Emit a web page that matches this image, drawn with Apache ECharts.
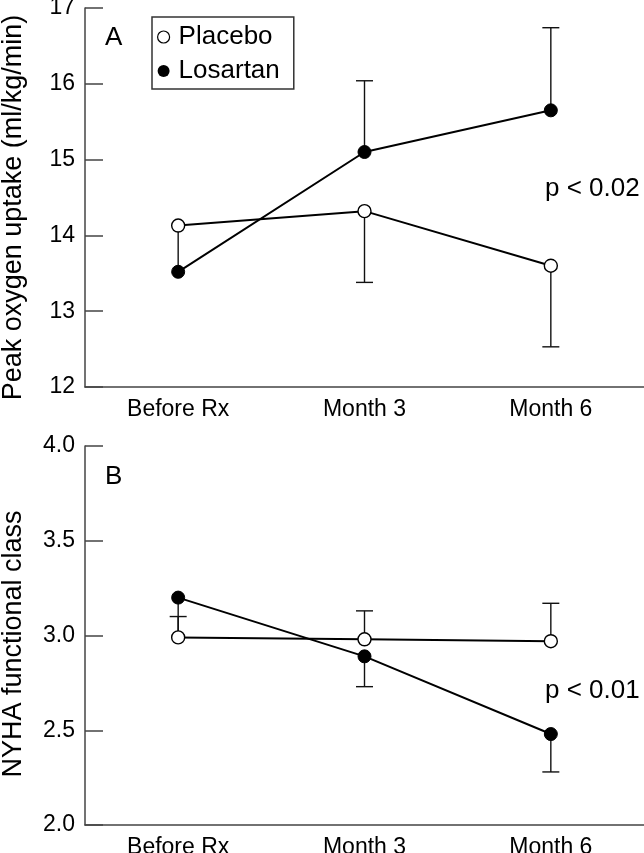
<!DOCTYPE html>
<html>
<head>
<meta charset="utf-8">
<script src="https://cdn.jsdelivr.net/npm/echarts@6/dist/echarts.min.js"></script>
<style>
html,body{margin:0;padding:0;background:#fff;}
#chart{width:644px;height:853px;}
</style>
</head>
<body>
<div id="chart"></div>
<script>
// ---- data ----
const categories = ['Before Rx', 'Month 3', 'Month 6'];
const seriesNames = ['Placebo', 'Losartan'];

// Panel A: peak oxygen uptake (ml/kg/min)
const peakTicks = [12, 13, 14, 15, 16, 17];
const peakPlacebo = [14.13, 14.32, 13.60];
const peakLosartan = [13.52, 15.10, 15.65];
const peakPlaceboBarEnd = [13.55, 13.38, 12.53];
const peakPlaceboBarCap = [0, 1, 1];
const peakLosartanBarEnd = [null, 16.04, 16.74];
const peakLosartanBarCap = [0, 1, 1];
const peakPValue = 'p < 0.02';

// Panel B: NYHA functional class
const nyhaTicks = [2.0, 2.5, 3.0, 3.5, 4.0];
const nyhaPlacebo = [2.99, 2.98, 2.97];
const nyhaLosartan = [3.20, 2.89, 2.48];
const nyhaPlaceboBarEnd = [3.10, 3.13, 3.17];
const nyhaPlaceboBarCap = [1, 1, 1];
const nyhaLosartanBarEnd = [3.0, 2.73, 2.28];
const nyhaLosartanBarCap = [0, 1, 1];
const nyhaPValue = 'p < 0.01';

const panelLabels = ['A', 'B'];
const yNames = ['Peak oxygen uptake (ml/kg/min)', 'NYHA functional class'];

// ---- chart ----
const FONT = '"Liberation Sans", Arial, Helvetica, sans-serif';
const AXIS_COLOR = '#444';

function barRows(means, ends, caps) {
  const rows = [];
  categories.forEach((c, i) => {
    if (ends[i] !== null && ends[i] !== undefined) rows.push([i, means[i], ends[i], caps[i]]);
  });
  return rows;
}

function renderErrorBar(params, api) {
  const idx = api.value(0);
  const p0 = api.coord([idx, api.value(1)]);
  const p1 = api.coord([idx, api.value(2)]);
  const style = { stroke: '#111', lineWidth: 1.4 };
  const children = [{ type: 'line', shape: { x1: p0[0], y1: p0[1], x2: p1[0], y2: p1[1] }, style: style }];
  if (api.value(3)) {
    children.push({ type: 'line', shape: { x1: p1[0] - 8.5, y1: p1[1], x2: p1[0] + 8.5, y2: p1[1] }, style: style });
  }
  return { type: 'group', children: children };
}

function xAxisCfg(gi) {
  return {
    type: 'category', gridIndex: gi, data: categories, boundaryGap: true,
    axisLine: { lineStyle: { color: AXIS_COLOR, width: 1.5 } },
    axisTick: { inside: true, length: 18, alignWithLabel: true, lineStyle: { color: AXIS_COLOR, width: 1.5 } },
    axisLabel: { fontSize: 23, color: '#000', margin: 11, fontFamily: FONT }
  };
}
function yAxisCfg(gi, ticks, name, pad, fmt) {
  return {
    type: 'value', gridIndex: gi, min: ticks[0], max: ticks[ticks.length - 1],
    interval: ticks[1] - ticks[0],
    name: name, nameLocation: 'middle', nameGap: 58, nameRotate: 90,
    nameTextStyle: { fontSize: 27, color: '#000', fontFamily: FONT, padding: pad },
    splitLine: { show: false },
    axisLine: { show: true, lineStyle: { color: AXIS_COLOR, width: 1.5 } },
    axisTick: { show: true, inside: true, length: 18, lineStyle: { color: AXIS_COLOR, width: 1.5 } },
    axisLabel: { fontSize: 23, color: '#000', margin: 10, fontFamily: FONT, formatter: fmt }
  };
}

function lineSeries(name, gi, data, filled) {
  return {
    type: 'line', name: name, xAxisIndex: gi, yAxisIndex: gi, data: data,
    symbol: 'circle', symbolSize: 13, z: 3, animation: false,
    lineStyle: { color: '#000', width: 2 },
    itemStyle: filled ? { color: '#000', borderColor: '#000', borderWidth: 1 }
                      : { color: '#fff', borderColor: '#000', borderWidth: 1.4 }
  };
}
function barSeries(gi, means, ends, caps) {
  return {
    type: 'custom', xAxisIndex: gi, yAxisIndex: gi, z: 2, silent: true, animation: false,
    renderItem: renderErrorBar, data: barRows(means, ends, caps),
    encode: { x: 0, y: [1, 2] }
  };
}

const chart = echarts.init(document.getElementById('chart'), null, { renderer: 'canvas' });
chart.setOption({
  animation: false,
  backgroundColor: '#fff',
  textStyle: { fontFamily: FONT },
  grid: [
    { left: 85, top: 8, right: 0, height: 379, containLabel: false, outerBoundsMode: 'none' },
    { left: 85, top: 446, right: 0, height: 379, containLabel: false, outerBoundsMode: 'none' }
  ],
  xAxis: [xAxisCfg(0), xAxisCfg(1)],
  yAxis: [
    yAxisCfg(0, peakTicks, yNames[0], [0, 20, 0, 0], v => String(v)),
    yAxisCfg(1, nyhaTicks, yNames[1], [0, 17, 0, 0], v => v.toFixed(1))
  ],
  legend: {
    orient: 'vertical', left: 152, top: 17, padding: [7, 14, 5, 5], itemGap: 8,
    itemWidth: 20, itemHeight: 12, borderColor: '#333', borderWidth: 1.5,
    textStyle: { fontSize: 26, color: '#000', fontFamily: FONT },
    selectedMode: false,
    data: [
      { name: seriesNames[0], icon: 'circle', itemStyle: { color: '#fff', borderColor: '#000', borderWidth: 1.2 } },
      { name: seriesNames[1], icon: 'circle', itemStyle: { color: '#000', borderColor: '#000', borderWidth: 0 } }
    ]
  },
  graphic: [
    { type: 'text', x: 105, y: 38, style: { text: panelLabels[0], fontSize: 26, fontFamily: FONT, fill: '#000', verticalAlign: 'middle' } },
    { type: 'text', x: 105, y: 477, style: { text: panelLabels[1], fontSize: 26, fontFamily: FONT, fill: '#000', verticalAlign: 'middle' } },
    { type: 'text', x: 545, y: 189, style: { text: peakPValue, fontSize: 26, fontFamily: FONT, fill: '#000', verticalAlign: 'middle' } },
    { type: 'text', x: 545, y: 691, style: { text: nyhaPValue, fontSize: 26, fontFamily: FONT, fill: '#000', verticalAlign: 'middle' } }
  ],
  series: [
    barSeries(0, peakPlacebo, peakPlaceboBarEnd, peakPlaceboBarCap),
    barSeries(0, peakLosartan, peakLosartanBarEnd, peakLosartanBarCap),
    lineSeries(seriesNames[0], 0, peakPlacebo, false),
    lineSeries(seriesNames[1], 0, peakLosartan, true),
    barSeries(1, nyhaPlacebo, nyhaPlaceboBarEnd, nyhaPlaceboBarCap),
    barSeries(1, nyhaLosartan, nyhaLosartanBarEnd, nyhaLosartanBarCap),
    lineSeries(seriesNames[0], 1, nyhaPlacebo, false),
    lineSeries(seriesNames[1], 1, nyhaLosartan, true)
  ]
});
</script>
</body>
</html>
